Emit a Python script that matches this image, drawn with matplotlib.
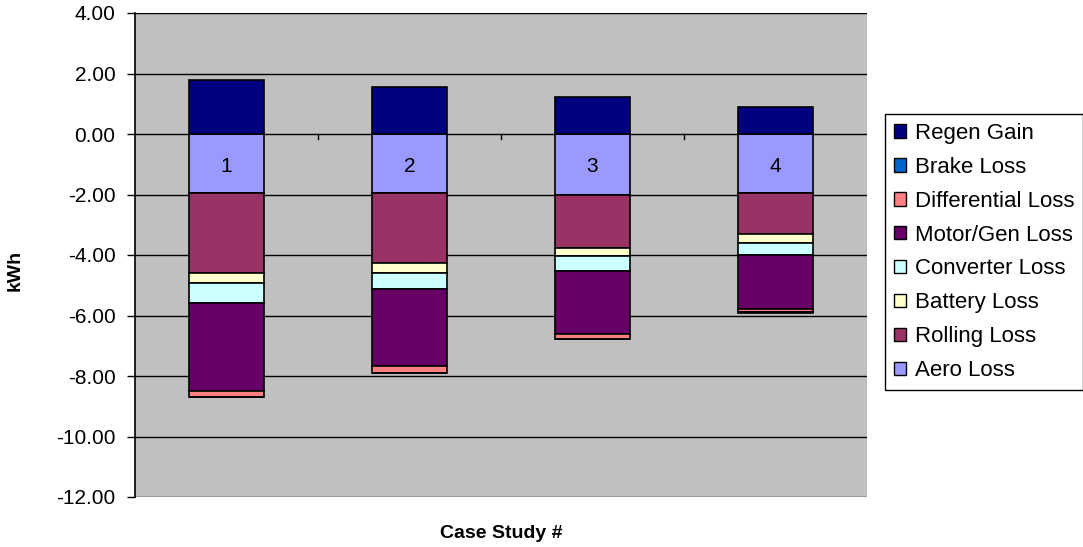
#!/usr/bin/env python3
"""Energy balance per case study: stacked losses below zero, regen gain above."""
import numpy as np
import matplotlib.pyplot as plt
from matplotlib.patches import Patch

plt.rcParams["font.family"] = ["Liberation Sans", "DejaVu Sans"]

cases = ["1", "2", "3", "4"]

# kWh per component, stacked downward from zero in this order
aero_loss = [-1.96, -1.96, -2.02, -1.96]
rolling_loss = [-2.62, -2.29, -1.74, -1.36]
battery_loss = [-0.33, -0.33, -0.27, -0.29]
converter_loss = [-0.67, -0.56, -0.50, -0.39]
motor_gen_loss = [-2.91, -2.53, -2.09, -1.80]
differential_loss = [-0.22, -0.22, -0.17, -0.07]
brake_loss = [0.0, 0.0, 0.0, -0.06]
regen_gain = [1.79, 1.56, 1.23, 0.90]

losses = [
    ("Aero Loss", aero_loss, "#9999FF"),
    ("Rolling Loss", rolling_loss, "#993366"),
    ("Battery Loss", battery_loss, "#FFFFCC"),
    ("Converter Loss", converter_loss, "#CCFFFF"),
    ("Motor/Gen Loss", motor_gen_loss, "#660066"),
    ("Differential Loss", differential_loss, "#FF8080"),
    ("Brake Loss", brake_loss, "#0066CC"),
]
regen = ("Regen Gain", regen_gain, "#000080")

fig = plt.figure(figsize=(10.83, 5.47), dpi=100)
ax = fig.add_axes([135 / 1083, 1 - 497 / 547, (867 - 135) / 1083, (497 - 13) / 547])
ax.set_facecolor("#C0C0C0")

x = np.arange(len(cases))
width = 0.41
bottom = np.zeros(len(cases))
for name, vals, color in losses:
    vals = np.array(vals)
    ax.bar(x, vals, width, bottom=bottom, color=color, edgecolor="black",
           linewidth=1.2, zorder=3)
    bottom += vals
ax.bar(x, regen[1], width, color=regen[2], edgecolor="black", linewidth=1.2, zorder=3)

ax.set_xlim(-0.5, len(cases) - 0.5)
ax.set_ylim(-12, 4)
yt = np.arange(-12, 4.01, 2)
ax.set_yticks(yt)
ax.set_yticklabels([f"{v:.2f}" for v in yt], fontsize=15)
ax.yaxis.grid(True, color="black", linewidth=1.0, zorder=1)
ax.set_axisbelow(True)
ax.tick_params(axis="y", direction="out", length=6, width=1, pad=8)
ax.set_xticks([])

# category axis sits on the zero line
for b in np.arange(0.5, len(cases) - 0.5, 1):
    ax.plot([b, b], [0, -0.15], color="black", linewidth=1, zorder=2)
for xi, lab in zip(x, cases):
    ax.text(xi, -1.06, lab, ha="center", va="center", fontsize=15, zorder=4)

for side in ("top", "right", "bottom"):
    ax.spines[side].set_visible(False)
ax.spines["left"].set_color("black")
ax.spines["left"].set_linewidth(1.2)

fig.text(15 / 1083, 1 - 270 / 547, "kWh", rotation=90, ha="center", va="center",
         fontsize=14, fontweight="bold")
fig.text((135 + 867) / 2 / 1083, 1 - 533 / 547, "Case Study #",
         ha="center", va="center", fontsize=14, fontweight="bold")

handles = [Patch(facecolor=regen[2], edgecolor="black", label=regen[0])]
for name, vals, color in reversed(losses):
    handles.append(Patch(facecolor=color, edgecolor="black", label=name))
leg = fig.legend(handles=handles, loc="upper left",
                 bbox_to_anchor=(885 / 1083, 1 - 114 / 547),
                 fontsize=16, handlelength=0.55, handleheight=0.55,
                 handletextpad=0.4, labelspacing=0.58, borderpad=0.4,
                 borderaxespad=0, fancybox=False, framealpha=1,
                 edgecolor="black")
leg.get_frame().set_linewidth(1.0)

fig.savefig("out.png", dpi=100, facecolor="white")
